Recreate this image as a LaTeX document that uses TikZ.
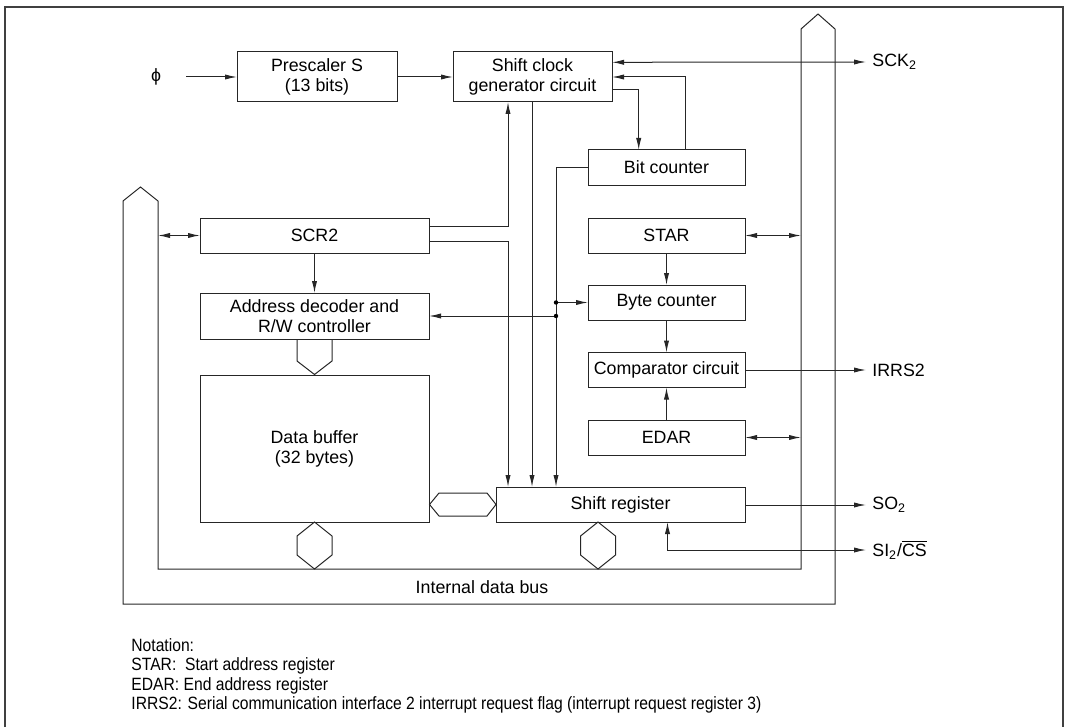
\documentclass[tikz,border=0pt]{standalone}
\usepackage{fontspec}
\setmainfont{Liberation Sans}
\newfontfamily\notefont[FakeStretch=0.88]{Liberation Sans}
\usetikzlibrary{arrows.meta,positioning,calc}

\begin{document}
\begin{tikzpicture}[
    x=0.5pt, y=-0.5pt,
    font=\fontsize{8.9}{10}\selectfont,
    blk/.style={draw, black!85, text=black, line width=0.5pt, inner sep=0pt, outer sep=0pt, align=center, minimum height=17.5pt},
    arr/.style={-{Latex[length=6pt,width=2.6pt]}, line width=0.5pt, black!85},
    arr2/.style={{Latex[length=6pt,width=2.6pt]}-{Latex[length=6pt,width=2.6pt]}, line width=0.5pt, black!85},
    bus/.style={line width=0.5pt, black!85},
    sig/.style={anchor=west, inner sep=3pt}
]
\useasboundingbox (0,0) rectangle (1068,727);
% outer frame
\draw[line width=0.8pt, black!75] (5,727) -- (5,7) -- (1063,7) -- (1063,727);

% blocks
\node[blk, minimum width=80pt, minimum height=25pt] (pre) at (317,77) {Prescaler S\\(13 bits)};
\node[blk, minimum width=79.5pt, minimum height=25pt] (scg) at (532.5,77) {Shift clock\\generator circuit};
\node[blk, minimum width=78.5pt] (bitc) at (666.5,167.5) {Bit counter};
\node[blk, minimum width=78.5pt] (star) at (666.5,235.5) {STAR};
\node[blk, minimum width=78.5pt] (bytec) at (666.5,302.5) {Byte counter};
\node[blk, minimum width=78.5pt] (comp) at (666.5,370) {Comparator circuit};
\node[blk, minimum width=78.5pt] (edar) at (666.5,437.5) {EDAR};
\node[blk, minimum width=124.5pt] (shreg) at (620.5,504.5) {Shift register};
\node[blk, minimum width=114.5pt] (scr) at (314.5,235.5) {SCR2};
\node[blk, minimum width=114.5pt, minimum height=23pt] (addr) at (314.5,316) {Address decoder and\\R/W controller};
\node[blk, minimum width=114.5pt, minimum height=73.5pt] (dbuf) at (314.5,448.5) {Data buffer\\(32 bytes)};

% signals
\node (phi) at (156,77) {ϕ};
\node[sig] (sck) at (866,62) {SCK\textsubscript{2}};
\node[sig] (irrs) at (866,370) {IRRS2};
\node[sig] (so) at (866,505) {SO\textsubscript{2}};
\node[sig] (si) at (866,550) {SI\textsubscript{2}/$\overline{\mbox{CS}}$};

% internal data bus
\draw[bus] (123,201) -- (140.5,187) -- (158,201) -- (158,569) -- (801,569) -- (801,29)
    -- (818,14) -- (835,29) -- (835,604) -- (123,604) -- cycle;
\node (busname) at (482,587) {Internal data bus};
\coordinate (busL) at (158,0);
\coordinate (busR) at (801,0);

% bus links
\draw[bus] (297,339) -- (297,361) -- (314.5,374.5) -- (332,361) -- (332,339);
\draw[bus] (314.5,522) -- (332,536) -- (332,555) -- (314.5,569) -- (297,555) -- (297,536) -- cycle;
\draw[bus] (598,522) -- (615.5,536) -- (615.5,555) -- (598,569) -- (580.5,555) -- (580.5,536) -- cycle;
\draw[bus] (429.5,504.5) -- (439,493) -- (487,493) -- (496,504.5) -- (487,516) -- (439,516) -- cycle;

% lanes down to the shift register
\coordinate (laneA) at (508,0);
\coordinate (laneB) at (532,0);
\coordinate (laneC) at (556,0);

\draw[arr] ([xshift=9pt]phi.east) -- (pre.west);
\draw[arr] (pre.east) -- (scg.west);
\draw[arr2] ([yshift=7.35pt]scg.east) -- (sck.west);
\draw[arr] ([yshift=-6.15pt]scg.east) -| ([xshift=-13.9pt]bitc.north);
\draw[arr] ([xshift=9.6pt]bitc.north) |- (scg.east);
\draw[arr] ([yshift=4.75pt]scr.east) -| (laneA |- scg.south);
\draw[arr] ([yshift=-2.75pt]scr.east) -| (laneA |- shreg.north);
\draw[arr] (laneB |- scg.south) -- (laneB |- shreg.north);
\draw[arr] (bitc.west) -| (laneC |- shreg.north);
\draw[arr] (laneC |- bytec.west) -- (bytec.west);
\draw[arr] (laneC |- addr.east) -- (addr.east);
\fill (laneC |- bytec.west) circle (1.1pt);
\fill (laneC |- addr.east) circle (1.1pt);
\draw[arr] (scr.south) -- (addr.north);
\draw[arr2] (busL |- scr.west) -- (scr.west);
\draw[arr2] (star.east) -- (busR |- star.east);
\draw[arr2] (edar.east) -- (busR |- edar.east);
\draw[arr] (star.south) -- (bytec.north);
\draw[arr] (bytec.south) -- (comp.north);
\draw[arr] (edar.north) -- (comp.south);
\draw[arr] (comp.east) -- (irrs.west);
\draw[arr] ([yshift=-0.25pt]shreg.east) -- (so.west);
\draw[arr2] ([xshift=23.5pt]shreg.south) |- (si.west);

% notation
\node[anchor=north west, align=left, inner sep=0pt, font=\notefont\fontsize{8.9}{9.7}\selectfont] (notes) at (131,638)
    {Notation:\\
     STAR:~ Start address register\\
     EDAR: End address register\\
     IRRS2: Serial communication interface 2 interrupt request flag (interrupt request register 3)};
\end{tikzpicture}
\end{document}
